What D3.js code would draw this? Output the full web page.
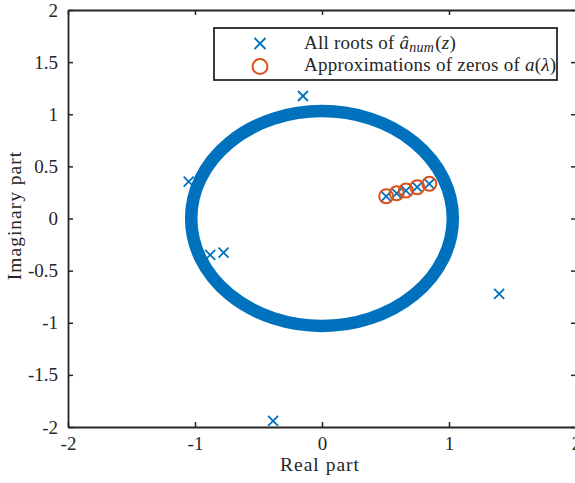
<!DOCTYPE html>
<html>
<head>
<meta charset="utf-8">
<script src="https://cdn.jsdelivr.net/npm/d3@7"></script>
<style>
  html, body { margin: 0; padding: 0; background: #fff; }
  svg { display: block; }
  text { font-family: "Liberation Serif", "Times New Roman", serif; fill: #262626; }
</style>
</head>
<body>
<svg id="chart" width="575" height="483"></svg>
<script>
// ---- Data ----
// Dense band of roots lying on a circle around the origin (drawn as a ring)
const ringCenter = [0, 0];
const ringRadius = 1.03;
// Isolated roots of a_num(z)
const rootsRe = [-0.15, -1.05, -0.88, -0.775, 1.395, -0.385, 0.505, 0.588, 0.661, 0.75, 0.845];
const rootsIm = [1.175, 0.353, -0.35, -0.328, -0.724, -1.942, 0.213, 0.242, 0.268, 0.300, 0.333];
// Approximations of zeros of a(lambda)
const zerosRe = [0.505, 0.588, 0.661, 0.75, 0.845];
const zerosIm = [0.213, 0.242, 0.268, 0.300, 0.333];
// Axis ticks
const xTicks = [-2, -1, 0, 1, 2];
const yTicks = [-2, -1.5, -1, -0.5, 0, 0.5, 1, 1.5, 2];
const xDomain = [-2, 2];
const yDomain = [-2, 2];

// ---- Layout ----
const blue = "#0072BD", orange = "#D95319", axisCol = "#262626";
const L = 68, R = 576, T = 10, B = 427;
const svg = d3.select("#chart");
const x = d3.scaleLinear().domain(xDomain).range([L, R]);
const y = d3.scaleLinear().domain(yDomain).range([B, T]);

// Ring of roots
const rx = x(ringCenter[0] + ringRadius) - x(ringCenter[0]);
const ry = y(ringCenter[1]) - y(ringCenter[1] + ringRadius);
svg.append("ellipse")
  .attr("cx", x(ringCenter[0])).attr("cy", y(ringCenter[1]))
  .attr("rx", rx).attr("ry", ry)
  .attr("fill", "none").attr("stroke", blue).attr("stroke-width", 12.5);

// Cross markers
const roots = rootsRe.map((r, i) => [r, rootsIm[i]]);
const cs = 5;
const crossPath = (cx, cy, s) => `M${cx - s},${cy - s}L${cx + s},${cy + s}M${cx - s},${cy + s}L${cx + s},${cy - s}`;
svg.append("g").selectAll("path").data(roots).join("path")
  .attr("d", d => crossPath(x(d[0]), y(d[1]), cs))
  .attr("stroke", blue).attr("stroke-width", 1.8).attr("fill", "none");

// Circle markers
const zeros = zerosRe.map((r, i) => [r, zerosIm[i]]);
svg.append("g").selectAll("circle").data(zeros).join("circle")
  .attr("cx", d => x(d[0])).attr("cy", d => y(d[1])).attr("r", 7)
  .attr("fill", "none").attr("stroke", orange).attr("stroke-width", 2);

// Axes (box with inward ticks on all sides)
const fmt = d => String(d);
const tickLen = 5;
const axG = svg.append("g");
const axisStyle = g => {
  g.select(".domain").attr("stroke", axisCol).attr("stroke-width", 1.8);
  g.selectAll(".tick line").attr("stroke", axisCol).attr("stroke-width", 1.5);
  g.selectAll(".tick text").attr("fill", axisCol)
    .style("font-family", '"Liberation Serif", serif').style("font-size", "19px");
};
axG.append("g").attr("transform", `translate(0,${B})`)
  .call(d3.axisBottom(x).tickValues(xTicks).tickFormat(fmt).tickSizeInner(-tickLen).tickSizeOuter(0).tickPadding(10))
  .call(axisStyle);
axG.append("g").attr("transform", `translate(0,${T})`)
  .call(d3.axisTop(x).tickValues(xTicks).tickFormat("").tickSizeInner(-tickLen).tickSizeOuter(0))
  .call(axisStyle);
axG.append("g").attr("transform", `translate(${L},0)`)
  .call(d3.axisLeft(y).tickValues(yTicks).tickFormat(fmt).tickSizeInner(-tickLen).tickSizeOuter(0).tickPadding(10))
  .call(axisStyle);
axG.append("g").attr("transform", `translate(${R},0)`)
  .call(d3.axisRight(y).tickValues(yTicks).tickFormat("").tickSizeInner(-tickLen).tickSizeOuter(0))
  .call(axisStyle);
axG.selectAll("text").attr("font-family", null);

// Axis labels
svg.append("text").attr("x", (L + R) / 2 - 2).attr("y", 471)
  .attr("text-anchor", "middle").style("font-size", "19.5px").style("letter-spacing", "1px").text("Real part");
svg.append("text").attr("transform", `translate(21,${(T + B) / 2 - 3}) rotate(-90)`)
  .attr("text-anchor", "middle").style("font-size", "19.5px").style("letter-spacing", "1px").text("Imaginary part");

// Legend
const lg = svg.append("g");
lg.append("rect").attr("x", 214).attr("y", 28).attr("width", 343).attr("height", 52)
  .attr("fill", "#fff").attr("stroke", axisCol).attr("stroke-width", 1.8);
lg.append("path").attr("d", crossPath(260, 43.5, 5.5))
  .attr("stroke", blue).attr("stroke-width", 1.8).attr("fill", "none");
lg.append("circle").attr("cx", 260).attr("cy", 66.5).attr("r", 7.5)
  .attr("fill", "none").attr("stroke", orange).attr("stroke-width", 2);
const t1 = lg.append("text").attr("x", 304).attr("y", 48.5).style("font-size", "19px").style("letter-spacing", "0.25px");
t1.append("tspan").text("All roots of ");
t1.append("tspan").style("font-style", "italic").text("a\u0302");
t1.append("tspan").style("font-style", "italic").style("font-size", "14px").attr("dy", 3).text("num");
t1.append("tspan").attr("dy", -3).attr("dx", 1).text("(");
t1.append("tspan").style("font-style", "italic").text("z");
t1.append("tspan").text(")");
const t2 = lg.append("text").attr("x", 304).attr("y", 71).style("font-size", "19px").style("letter-spacing", "0.25px");
t2.append("tspan").text("Approximations of zeros of ");
t2.append("tspan").style("font-style", "italic").text("a");
t2.append("tspan").text("(");
t2.append("tspan").style("font-style", "italic").text("\u03bb");
t2.append("tspan").text(")");
</script>
</body>
</html>
